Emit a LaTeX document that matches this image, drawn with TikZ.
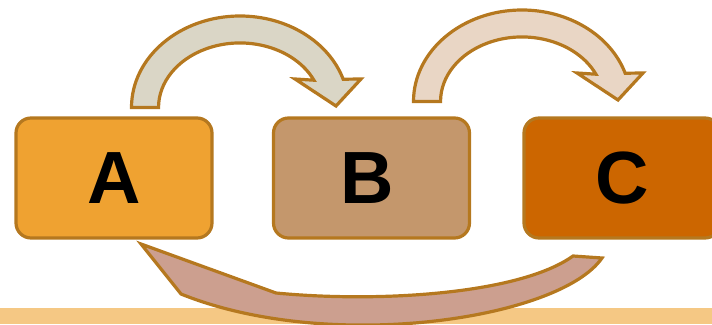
\documentclass[tikz,border=0pt]{standalone}
\usepackage{fontspec}
\setmainfont{Liberation Sans}
\definecolor{edge}{HTML}{B5781F}
\definecolor{fillA}{HTML}{EFA231}
\definecolor{fillB}{HTML}{C4976C}
\definecolor{fillC}{HTML}{CC6600}
\definecolor{arrowone}{HTML}{DAD6C6}
\definecolor{arrowtwo}{HTML}{E9D6C5}
\definecolor{arrowback}{HTML}{CC9F8F}
\definecolor{band}{HTML}{F5C884}
\begin{document}
\begin{tikzpicture}[x=1pt,y=1pt,
  box/.style={draw=edge, line width=3.2pt, rounded corners=15pt, inner sep=0pt,
    minimum width=196pt, minimum height=120pt,
    font=\fontsize{74}{80}\selectfont\bfseries},
  bigarrow/.style={draw=edge, line width=3.2pt, line join=miter}]
\useasboundingbox (0,0) rectangle (712,324);
% bottom band
\fill[band] (0,0) rectangle (712,16);
% boxes
\node[box, fill=fillA] (A) at (114,146) {A};
\node[box, fill=fillB] (B) at (371.5,146) {\kern-9pt B};
\node[box, fill=fillC] (C) at (622,146) {C};
% arrow A -> B
\draw[bigarrow, fill=arrowone] (131.5,216.5)
  arc[start angle=180, end angle=18, x radius=108.5, y radius=91.5]
  -- (361,245) -- (336,218) -- (295,245) -- (313.9,243.8)
  arc[start angle=25, end angle=180, x radius=81.5, y radius=64.5] -- cycle;
% arrow B -> C
\begin{scope}[shift={(282,6)}]
\draw[bigarrow, fill=arrowtwo] (131.5,216.5)
  arc[start angle=180, end angle=18, x radius=108.5, y radius=91.5]
  -- (361,245) -- (336,218) -- (295,245) -- (313.9,243.8)
  arc[start angle=25, end angle=180, x radius=81.5, y radius=64.5] -- cycle;
\end{scope}
% arrow C -> A (bottom)
\draw[bigarrow, fill=arrowback] (141,80) -- (276,31)
  .. controls (380,21) and (520,30) .. (573,68)
  -- (602,66)
  .. controls (560,5) and (330,-30) .. (181,30) -- cycle;
\end{tikzpicture}
\end{document}
